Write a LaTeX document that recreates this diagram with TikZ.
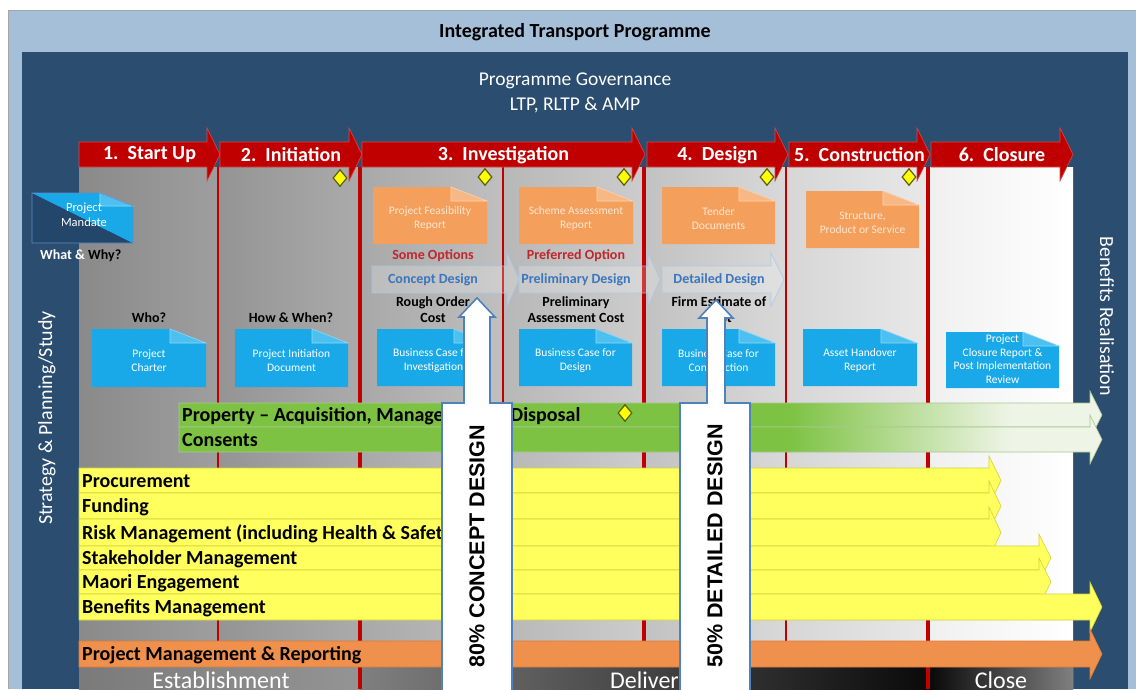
\documentclass[tikz,border=0pt]{standalone}
\usepackage{fontspec}
\usepackage{graphicx}
\setmainfont{Carlito}
\newfontfamily\arrowfont{Liberation Sans}
\usetikzlibrary{shapes.geometric}

\definecolor{frameblue}{HTML}{A6BFD9}
\definecolor{panelblue}{HTML}{2B4D70}
\definecolor{phasered}{HTML}{C00000}
\definecolor{phaseedge}{HTML}{D84848}
\definecolor{stageline}{HTML}{C00000}
\definecolor{docblue}{HTML}{19A9E9}
\definecolor{docbluefold}{HTML}{4CC0F0}
\definecolor{docorange}{HTML}{F4A05C}
\definecolor{docorangefold}{HTML}{F7B884}
\definecolor{orangetext}{HTML}{FDE6D2}
\definecolor{mandatedark}{HTML}{23466B}
\definecolor{mandateedge}{HTML}{5B8DC4}
\definecolor{barGreen}{HTML}{7DC242}
\definecolor{greenPale}{HTML}{EEF4E6}
\definecolor{greenEdge}{HTML}{A8C890}
\definecolor{barYellow}{HTML}{FFFF5E}
\definecolor{barYellowLine}{HTML}{D2D23C}
\definecolor{barOrange}{HTML}{EF914C}
\definecolor{barOrangeLine}{HTML}{D97A38}
\definecolor{optRed}{HTML}{C0272D}
\definecolor{designBlue}{HTML}{3A76BE}
\definecolor{chevEdge}{HTML}{A9C8E8}
\definecolor{arrowOutline}{HTML}{4F81BD}
\definecolor{milestoneYellow}{HTML}{FFFF00}
\definecolor{milestoneEdge}{HTML}{5C5C10}

\pgfdeclarehorizontalshading{greenfade}{100bp}{color(0bp)=(barGreen); color(25bp)=(barGreen); color(58bp)=(barGreen); color(70bp)=(greenPale); color(100bp)=(greenPale)}

% document with a folded top-right corner: name, x1, y1, x2, y2, fill, fold fill, text colour, text
\newcommand\foldeddoc[9]{%
  \fill[#6] (#2,#3) -- ({#4-36},#3) -- (#4,{#3+14}) -- (#4,#5) -- (#2,#5) -- cycle;
  \filldraw[fill=#7, draw=#7!60!white, line width=0.6pt] ({#4-36},#3) -- ({#4-36},{#3+14}) -- (#4,{#3+14}) -- cycle;
  \node[doctext, text=#8] (#1) at ({(#2+#4)/2},{(#3+#5)/2+3}) {#9};
}

% phase arrow along the top: name, start x, tip x, label
\newcommand\phasearrow[4]{%
  \filldraw[fill=phasered, draw=phaseedge, line width=0.6pt] (#2,142) -- ({#3-13},142) -- ({#3-13},128) -- (#3,154.5) -- ({#3-13},181) -- ({#3-13},167) -- (#2,167) -- cycle;
  \node[phasetext] (#1) at ({(#2+#3)/2},155) {#4};
}

% workstream bar ending in an arrow head: name, x1, top, bottom, tip x, style, label
\newcommand\bararrow[7]{%
  \path[#6] (#2,#3) -- ({#5-12},#3) -- ({#5-12},{#3-12}) -- (#5,{(#3+#4)/2}) -- ({#5-12},{#4+12}) -- ({#5-12},#4) -- (#2,#4) -- cycle;
  \node[bartext] (#1) at ({#2+3},{(#3+#4)/2+1}) {#7};
}

% faint design-stage chevron: name, x1, body end, tip, text x, text
\newcommand\chevron[6]{%
  \filldraw[chevstyle] (#2,266) -- (#3,266) -- (#3,253) -- (#4,279.5) -- (#3,306) -- (#3,293) -- (#2,293) -- cycle;
  \node[designtext] (#1) at (#5,280) {#6};
}

\begin{document}
\begin{tikzpicture}[x=1pt,y=-1pt,
  every node/.style={inner sep=0pt},
  phasetext/.style={text=white, font=\bfseries\fontsize{20}{20}\selectfont},
  doctext/.style={align=center, font=\fontsize{11.5}{14}\selectfont},
  question/.style={align=center, font=\bfseries\fontsize{14}{16}\selectfont},
  optiontext/.style={text=optRed, font=\bfseries\fontsize{14}{16}\selectfont},
  designtext/.style={text=designBlue, font=\bfseries\fontsize{14}{16}\selectfont},
  bartext/.style={anchor=west, font=\bfseries\fontsize{20}{20}\selectfont},
  sidetext/.style={text=white, font=\fontsize{20}{20}\selectfont},
  bandtext/.style={text=white, anchor=base, font=\fontsize{24}{24}\selectfont},
  milestone/.style={diamond, draw=milestoneEdge, fill=milestoneYellow, line width=1.2pt, minimum width=14pt, minimum height=17pt},
  chevstyle/.style={fill=white, fill opacity=0.22, draw=chevEdge, draw opacity=0.85, line width=0.7pt},
  greenbar/.style={shade, shading=greenfade, draw=greenEdge, line width=0.6pt},
  yellowbar/.style={fill=barYellow, draw=barYellowLine, line width=0.6pt},
  orangebar/.style={fill=barOrange, draw=barOrangeLine, line width=0.6pt},
  bigarrow/.style={fill=white, draw=arrowOutline, line width=1.6pt},
  arrowtext/.style={rotate=90, font=\arrowfont\bfseries\fontsize{21.5}{22}\selectfont}
]
\useasboundingbox (0,0) rectangle (1136,689);
\fill[white] (0,0) rectangle (1136,689);

% programme frame and header
\fill[frameblue] (8,10) rectangle (1136,689);
\draw[black!35, line width=0.6pt] (8,689) -- (8,10) -- (1136,10);
\node[font=\bfseries\fontsize{20}{20}\selectfont] (title) at (575,32) {Integrated Transport Programme};
\fill[panelblue] (22,52) rectangle (1128,689);
\node[text=white, font=\fontsize{19.5}{20}\selectfont] (gov) at (575,81) {Programme Governance};
\node[text=white, font=\fontsize{19.5}{20}\selectfont] (plans) at (575,105) {LTP, RLTP \& AMP};

% stage columns
\foreach \xa/\xb/\ca/\cb in {79/218/46/38, 218/360/42/33, 360/503/34/25, 503/644/28/20, 644/786/24/15, 786/928/16/9, 928/1073/6/0}
  \shade[left color=black!\ca, right color=black!\cb] (\xa,167) rectangle (\xb,689);

% lifecycle band along the bottom
\shade[left color=black!52, right color=black!42] (79,667) rectangle (360,689);
\shade[left color=black!50, right color=black!96] (360,667) rectangle (928,689);
\shade[left color=black!97, right color=black!50] (928,667) rectangle (1073,689);
\node[bandtext] (establish) at (221,688) {Establishment};
\node[bandtext] (delivery) at (650,688) {Delivery};
\node[bandtext] (close) at (1001,688) {Close};

% stage boundaries
\foreach \x in {218,503,786} \draw[stageline, line width=2pt] (\x,167) -- (\x,667);
\draw[stageline, line width=4.5pt] (644,167) -- (644,667);
\foreach \x in {360,928} \draw[stageline, line width=4.5pt] (\x,167) -- (\x,689);

% phases
\phasearrow{p1}{79}{220}{1.\ \ Start Up}
\phasearrow{p2}{220}{362}{2.\ \ Initiation}
\phasearrow{p3}{362}{645}{3.\ \ Investigation}
\phasearrow{p4}{647}{788}{4.\ \ Design}
\phasearrow{p5}{789}{930}{5.\ \ Construction}
\phasearrow{p6}{931}{1073}{6.\ \ Closure}

% project mandate
\fill[mandatedark] (32,193) -- (133,243) -- (32,243) -- cycle;
\fill[docblue] (32,193) -- (100,193) -- (133,206) -- (133,243) -- cycle;
\filldraw[fill=docbluefold, draw=docbluefold!60!white, line width=0.6pt] (100,193) -- (100,206) -- (133,206) -- cycle;
\draw[mandateedge, line width=0.7pt] (32,193) -- (100,193) -- (133,206) -- (133,243) -- (32,243) -- cycle;
\node[doctext, text=white, font=\fontsize{12.5}{15}\selectfont] (mandate) at (84,215) {Project\\Mandate};
\node[anchor=west, font=\bfseries\fontsize{14}{16}\selectfont] (whatwhy) at (40,256) {\textcolor{white}{What \&} Why?};

% deliverables
\foldeddoc{feas}{373}{187}{487}{244}{docorange}{docorangefold}{orangetext}{Project Feasibility\\Report}
\foldeddoc{scheme}{519}{187}{633}{244}{docorange}{docorangefold}{orangetext}{Scheme Assessment\\Report}
\foldeddoc{tender}{662}{187}{775}{244}{docorange}{docorangefold}{orangetext}{Tender\\Documents}
\foldeddoc{structure}{806}{191}{919}{248}{docorange}{docorangefold}{orangetext}{Structure,\\Product or Service}

\foldeddoc{charter}{92}{329}{206}{387}{docblue}{docbluefold}{white}{Project\\Charter}
\foldeddoc{pid}{235}{329}{348}{387}{docblue}{docbluefold}{white}{Project Initiation\\Document}
\foldeddoc{bcinv}{377}{329}{490}{386}{docblue}{docbluefold}{white}{Business Case for\\Investigation}
\foldeddoc{bcdes}{519}{329}{632}{386}{docblue}{docbluefold}{white}{Business Case for\\Design}
\foldeddoc{bccon}{662}{329}{775}{386}{docblue}{docbluefold}{white}{Business Case for\\Construction}
\foldeddoc{handover}{803}{329}{917}{386}{docblue}{docbluefold}{white}{Asset Handover\\Report}
\foldeddoc{closure}{946}{332}{1059}{388}{docblue}{docbluefold}{white}{}
\node[doctext, text=white, font=\fontsize{11.5}{13.7}\selectfont] (closuretext) at (1002.5,359) {Project\\Closure Report \&\\Post Implementation\\Review};

% questions, options and cost levels
\node[question] (who) at (149,318) {Who?};
\node[question] (howwhen) at (291,318) {How \& When?};
\node[optiontext] (someopt) at (433,256) {Some Options};
\node[optiontext] (prefopt) at (576,256) {Preferred Option};
\chevron{concept}{372}{507}{519}{433}{Concept Design}
\chevron{prelim}{519}{648}{660}{576}{Preliminary Design}
\chevron{detailed}{662}{771}{784}{719}{Detailed Design}
\node[question] (rough) at (433,310) {Rough Order\\Cost};
\node[question] (prelimcost) at (576,310) {Preliminary\\Assessment Cost};
\node[question] (firm) at (719,310) {Firm Estimate of\\Cost};

% milestones
\node[milestone] (m1) at (340,178) {};
\node[milestone] (m2) at (485,177) {};
\node[milestone] (m3) at (624,177) {};
\node[milestone] (m4) at (767,177) {};
\node[milestone] (m5) at (909,177) {};

% workstreams
\bararrow{property}{179}{403}{427}{1102}{greenbar}{Property – Acquisition, Management \& Disposal}
\bararrow{consents}{179}{427}{452}{1102}{greenbar}{Consents}
\node[milestone] (m6) at (625,413) {};
\bararrow{procurement}{79}{468}{493}{1001}{yellowbar}{Procurement}
\bararrow{funding}{79}{493}{519}{1001}{yellowbar}{Funding}
\bararrow{risk}{79}{519}{546}{1001}{yellowbar}{Risk Management (including Health \& Safety)}
\bararrow{stakeholder}{79}{546}{570}{1051}{yellowbar}{Stakeholder Management}
\bararrow{maori}{79}{570}{594}{1051}{yellowbar}{Maori Engagement}
\bararrow{benefits}{79}{594}{620}{1102}{yellowbar}{Benefits Management}
\bararrow{pm}{79}{641}{667}{1102}{orangebar}{Project Management \& Reporting}

% design maturity arrows
\filldraw[bigarrow] (477,298) -- (495,317) -- (490,317) -- (490,403) -- (512,403) -- (512,693) -- (442,693) -- (442,403) -- (464,403) -- (464,317) -- (459,317) -- cycle;
\node[arrowtext] (concept80) at (477,546) {80\% CONCEPT DESIGN};
\filldraw[bigarrow] (716,300) -- (733,318) -- (725,318) -- (725,403) -- (750,403) -- (750,693) -- (680,693) -- (680,403) -- (707,403) -- (707,318) -- (699,318) -- cycle;
\node[arrowtext] (detailed50) at (715,546) {50\% DETAILED DESIGN};

% side labels
\node[sidetext, rotate=90] (strategy) at (47,418) {Strategy \& Planning/Study};
\node[sidetext, rotate=-90] (benefitsreal) at (1107,316) {Benefits Realisation};
\end{tikzpicture}
\end{document}
